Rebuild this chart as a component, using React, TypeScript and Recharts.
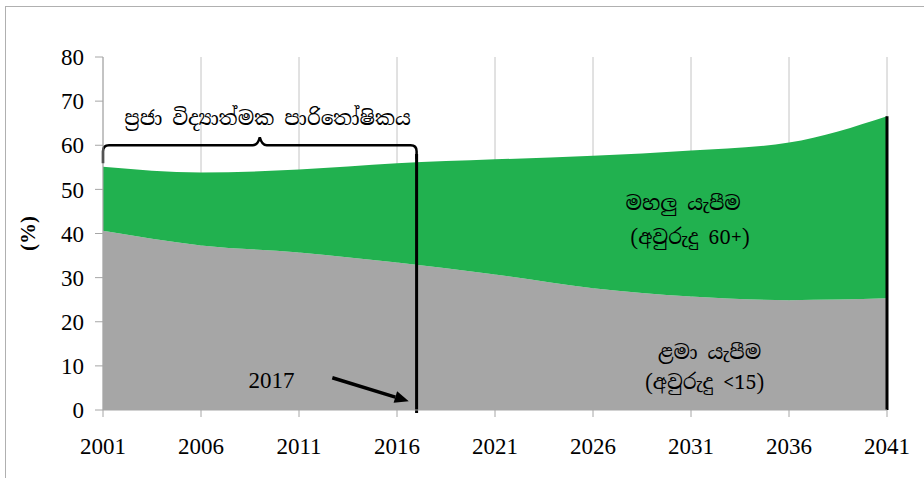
import {
  Area,
  AreaChart,
  CartesianGrid,
  ReferenceDot,
  ReferenceLine,
  XAxis,
  YAxis,
} from "recharts";

const years = [2001, 2006, 2011, 2016, 2021, 2026, 2031, 2036, 2041];
// child dependency (age < 15), bottom layer
const childDependency = [40.6, 37.3, 35.7, 33.4, 30.7, 27.6, 25.7, 24.9, 25.3];
// old age dependency (age 60+), stacked on top
const oldAgeDependency = [14.5, 16.5, 18.8, 22.5, 26.1, 30.0, 33.1, 35.7, 41.3];
const yTicks = [0, 10, 20, 30, 40, 50, 60, 70, 80];

const braceTitle = "ප්‍රජා විද්‍යාත්මක පාරිතෝෂිකය";
const oldLabel = ["මහලු යැපීම", "(අවුරුදු 60+)"];
const childLabel = ["ළමා යැපීම", "(අවුරුදු <15)"];
const markYear = 2017;

const data = years.map((year, i) => ({
  year,
  child: childDependency[i],
  old: oldAgeDependency[i],
}));

const lastTotal = childDependency[childDependency.length - 1] + oldAgeDependency[oldAgeDependency.length - 1];

const SERIF = "'Liberation Serif', 'Times New Roman', serif";
const SINHALA = "'Noto Serif Sinhala', 'Noto Sans Sinhala', 'Iskoola Pota', 'Liberation Serif', serif";

// curly brace over the "demographic dividend" period
const Brace = (p: any) => {
  const { x1, y1, x2 } = p;
  const mid = (x1 + x2) / 2;
  const d = `M ${x1} ${y1 + 18} L ${x1} ${y1 + 6} Q ${x1} ${y1} ${x1 + 6} ${y1}
    L ${mid - 7} ${y1} Q ${mid - 2} ${y1} ${mid} ${y1 - 8} Q ${mid + 2} ${y1} ${mid + 7} ${y1}
    L ${x2 - 6} ${y1} Q ${x2} ${y1} ${x2} ${y1 + 6} L ${x2} ${y1 + 14}`;
  return <path d={d} fill="none" stroke="#000" strokeWidth={2.5} />;
};

const Arrow = (p: any) => {
  const { x1, y1, x2, y2 } = p;
  const a = Math.atan2(y2 - y1, x2 - x1);
  const len = 14;
  const w = 6;
  const bx = x2 - len * Math.cos(a);
  const by = y2 - len * Math.sin(a);
  const px = -Math.sin(a) * w;
  const py = Math.cos(a) * w;
  return (
    <g>
      <line x1={x1} y1={y1} x2={bx} y2={by} stroke="#000" strokeWidth={3.5} />
      <polygon points={`${x2},${y2} ${bx + px},${by + py} ${bx - px},${by - py}`} fill="#000" />
    </g>
  );
};

const textAt = (value: string, font: string, size = 20) => (p: any) => (
  <text
    x={p.cx}
    y={p.cy}
    textAnchor="middle"
    dominantBaseline="central"
    fontFamily={font}
    fontSize={size}
    fill="#000"
  >
    {value}
  </text>
);

export default function App() {
  return (
    <div style={{ position: "absolute", left: 0, top: 0, width: 924, height: 478, overflow: "hidden", background: "#fff" }}>
      <div
        style={{
          position: "absolute",
          left: 5,
          top: 6,
          width: 960,
          height: 500,
          borderLeft: "1.5px solid #b0b0b0",
          borderTop: "1.5px solid #b0b0b0",
        }}
      />
      <AreaChart
        width={924}
        height={478}
        data={data}
        margin={{ top: 57, right: 37, bottom: 0, left: 0 }}
        style={{ position: "absolute", left: 0, top: 0 }}
      >
        <CartesianGrid horizontal={false} stroke="#c4c4c4" strokeWidth={1} />
        <XAxis
          dataKey="year"
          type="number"
          domain={[2001, 2041]}
          ticks={years}
          height={68}
          tickSize={7}
          tickMargin={21}
          stroke="#a6a6a6"
          tick={{ fill: "#000", fontFamily: SERIF, fontSize: 23 }}
        />
        <YAxis
          domain={[0, 80]}
          ticks={yTicks}
          width={103}
          tickSize={8}
          tickMargin={11}
          stroke="#a6a6a6"
          tick={{ fill: "#000", fontFamily: SERIF, fontSize: 23 }}
          label={{
            value: "(%)",
            angle: -90,
            position: "insideLeft",
            offset: 28,
            style: { fontFamily: SERIF, fontSize: 21, fontWeight: "bold", fill: "#000", textAnchor: "middle" },
          }}
        />
        <Area
          type="monotone"
          dataKey="child"
          stackId="dep"
          stroke="none"
          fill="#a6a6a6"
          fillOpacity={1}
          isAnimationActive={false}
        />
        <Area
          type="monotone"
          dataKey="old"
          stackId="dep"
          stroke="none"
          fill="#21b14f"
          fillOpacity={1}
          isAnimationActive={false}
        />
        <ReferenceLine
          segment={[
            { x: 2041, y: 0 },
            { x: 2041, y: lastTotal },
          ]}
          stroke="#000"
          strokeWidth={3}
        />
        <ReferenceLine
          segment={[
            { x: markYear, y: -0.7 },
            { x: markYear, y: 58 },
          ]}
          stroke="#000"
          strokeWidth={3}
          ifOverflow="visible"
        />
        <ReferenceLine
          segment={[
            { x: 2001, y: 60 },
            { x: markYear, y: 60 },
          ]}
          shape={Brace}
        />
        <ReferenceLine
          segment={[
            { x: 2012.7, y: 7.3 },
            { x: 2016.6, y: 2.0 },
          ]}
          shape={Arrow}
        />
        <ReferenceDot x={2009.4} y={66.2} r={0} shape={textAt(braceTitle, SINHALA)} />
        <ReferenceDot x={2030.6} y={46.9} r={0} shape={textAt(oldLabel[0], SINHALA)} />
        <ReferenceDot x={2030.95} y={39.2} r={0} shape={textAt(oldLabel[1], SINHALA)} />
        <ReferenceDot x={2031.95} y={13.1} r={0} shape={textAt(childLabel[0], SINHALA)} />
        <ReferenceDot x={2031.7} y={6.3} r={0} shape={textAt(childLabel[1], SINHALA)} />
        <ReferenceDot x={2009.6} y={6.6} r={0} shape={textAt(String(markYear), SERIF, 23)} />
      </AreaChart>
    </div>
  );
}
